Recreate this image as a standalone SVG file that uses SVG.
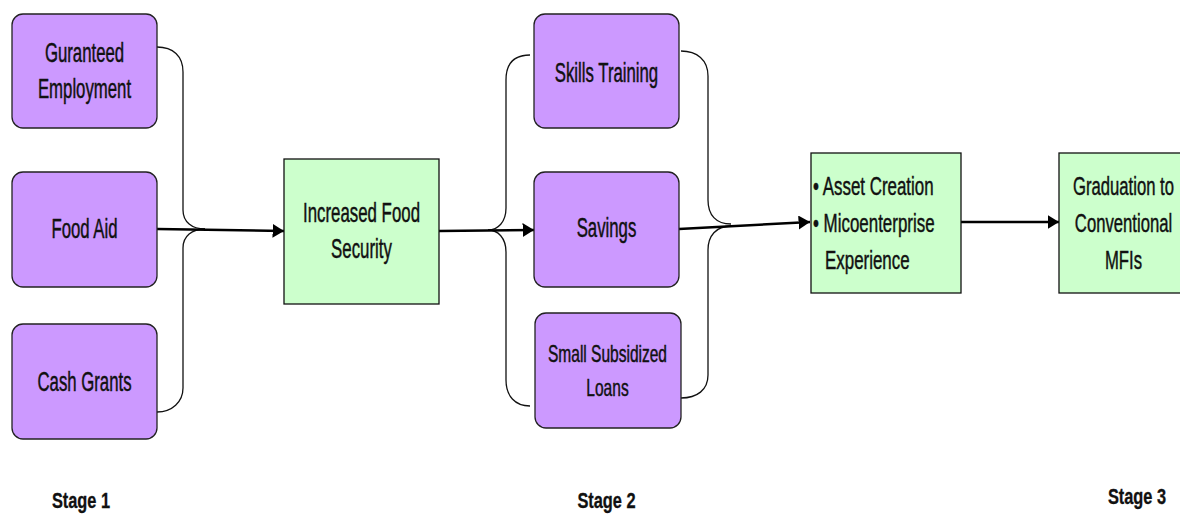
<svg xmlns="http://www.w3.org/2000/svg" width="1180" height="514" viewBox="0 0 1180 514">
<style>
.p{fill:#cc99ff;stroke:#222;stroke-width:1.3}
.g{fill:#ccffcc;stroke:#111;stroke-width:1.3}
.t{font-family:"Liberation Sans",Arial,sans-serif;font-size:26px;fill:#111;stroke:#111;stroke-width:0.45;text-anchor:middle}
.tl{font-family:"Liberation Sans",Arial,sans-serif;font-size:25px;fill:#111;stroke:#111;stroke-width:0.45;text-anchor:start}
.s{font-family:"Liberation Sans",Arial,sans-serif;font-size:21px;font-weight:bold;fill:#111;stroke:#111;stroke-width:0.3;text-anchor:middle}
.br{fill:none;stroke:#111;stroke-width:1.3}
.ar{fill:none;stroke:#000;stroke-width:2.6}
</style>
<defs>
<marker id="ah" viewBox="0 0 10 10" refX="10" refY="5" markerWidth="4.4" markerHeight="5.4" preserveAspectRatio="none" markerUnits="strokeWidth" orient="auto">
<path d="M0,0 L10,5 L0,10 Z" fill="#000"/>
</marker>
</defs>
<g id="connectors">
<path class="br" d="M157,47 C173,47 183,56 183,72 L183,210 C183,222 192,229 205,229"/>
<path class="br" d="M205,229 C192,229 183,236 183,248 L183,388 C183,402 172,412 157,412"/>
<path class="ar" d="M157,229 L284,231" marker-end="url(#ah)"/>
<path class="br" d="M530,55 C515,55 506,63 506,80 L506,208 C506,222 498,230 488,230"/>
<path class="br" d="M488,230 C498,230 506,238 506,252 L506,380 C506,396 515,406 530,406"/>
<path class="ar" d="M439,231 L534,230" marker-end="url(#ah)"/>
<path class="br" d="M681,51 C697,51 708,60 708,76 L708,200 C708,215 716,224 731,224"/>
<path class="br" d="M731,226 C716,226 708,236 708,250 L708,375 C708,390 697,398 681,398"/>
<path class="ar" d="M679,229 L810,222" marker-end="url(#ah)"/>
<path class="ar" d="M961,222 L1059,222" marker-end="url(#ah)"/>
</g>
<g id="n1"><rect class="p" x="12" y="14" width="145" height="114" rx="11"/>
<text class="t" transform="translate(84.5,62) scale(0.645,1.06)">Guranteed</text>
<text class="t" transform="translate(84.5,98) scale(0.645,1.06)">Employment</text></g>
<g id="n2"><rect class="p" x="12" y="172" width="145" height="115" rx="11"/>
<text class="t" transform="translate(84.5,238) scale(0.645,1.06)">Food Aid</text></g>
<g id="n3"><rect class="p" x="12" y="324" width="145" height="115" rx="11"/>
<text class="t" transform="translate(84.5,391) scale(0.645,1.06)">Cash Grants</text></g>
<g id="n4"><rect class="g" x="284" y="159" width="155" height="145"/>
<text class="t" transform="translate(361.5,222) scale(0.648,1.06)">Increased Food</text>
<text class="t" transform="translate(361.5,258) scale(0.648,1.06)">Security</text></g>
<g id="n5"><rect class="p" x="534" y="14" width="145" height="114" rx="11"/>
<text class="t" transform="translate(606.5,82) scale(0.645,1.06)">Skills Training</text></g>
<g id="n6"><rect class="p" x="534" y="172" width="145" height="115" rx="11"/>
<text class="t" transform="translate(606.5,237) scale(0.645,1.06)">Savings</text></g>
<g id="n7"><rect class="p" x="535" y="313" width="146" height="115" rx="11"/>
<text class="t" style="font-size:22.5px" transform="translate(607.5,362) scale(0.69,1.04)">Small Subsidized</text>
<text class="t" style="font-size:22.5px" transform="translate(607.5,396) scale(0.69,1.04)">Loans</text></g>
<g id="n8"><rect class="g" x="811" y="153" width="150" height="140"/>
<text class="tl" transform="translate(813,195) scale(0.677,1.04)">• Asset Creation</text>
<text class="tl" transform="translate(813,232) scale(0.677,1.04)">• Micoenterprise</text>
<text class="tl" transform="translate(825,269) scale(0.677,1.04)">Experience</text></g>
<g id="n9"><rect class="g" x="1059" y="153" width="129" height="140"/>
<text class="t" style="font-size:25px" transform="translate(1123.5,195) scale(0.667,1.04)">Graduation to</text>
<text class="t" style="font-size:25px" transform="translate(1123.5,232) scale(0.667,1.04)">Conventional</text>
<text class="t" style="font-size:25px" transform="translate(1123.5,269) scale(0.667,1.04)">MFIs</text></g>
<g id="stages">
<text class="s" transform="translate(81,508) scale(0.78,1.02)">Stage 1</text>
<text class="s" transform="translate(606.5,508) scale(0.78,1.02)">Stage 2</text>
<text class="s" transform="translate(1137,504) scale(0.78,1.02)">Stage 3</text>
</g>
</svg>
